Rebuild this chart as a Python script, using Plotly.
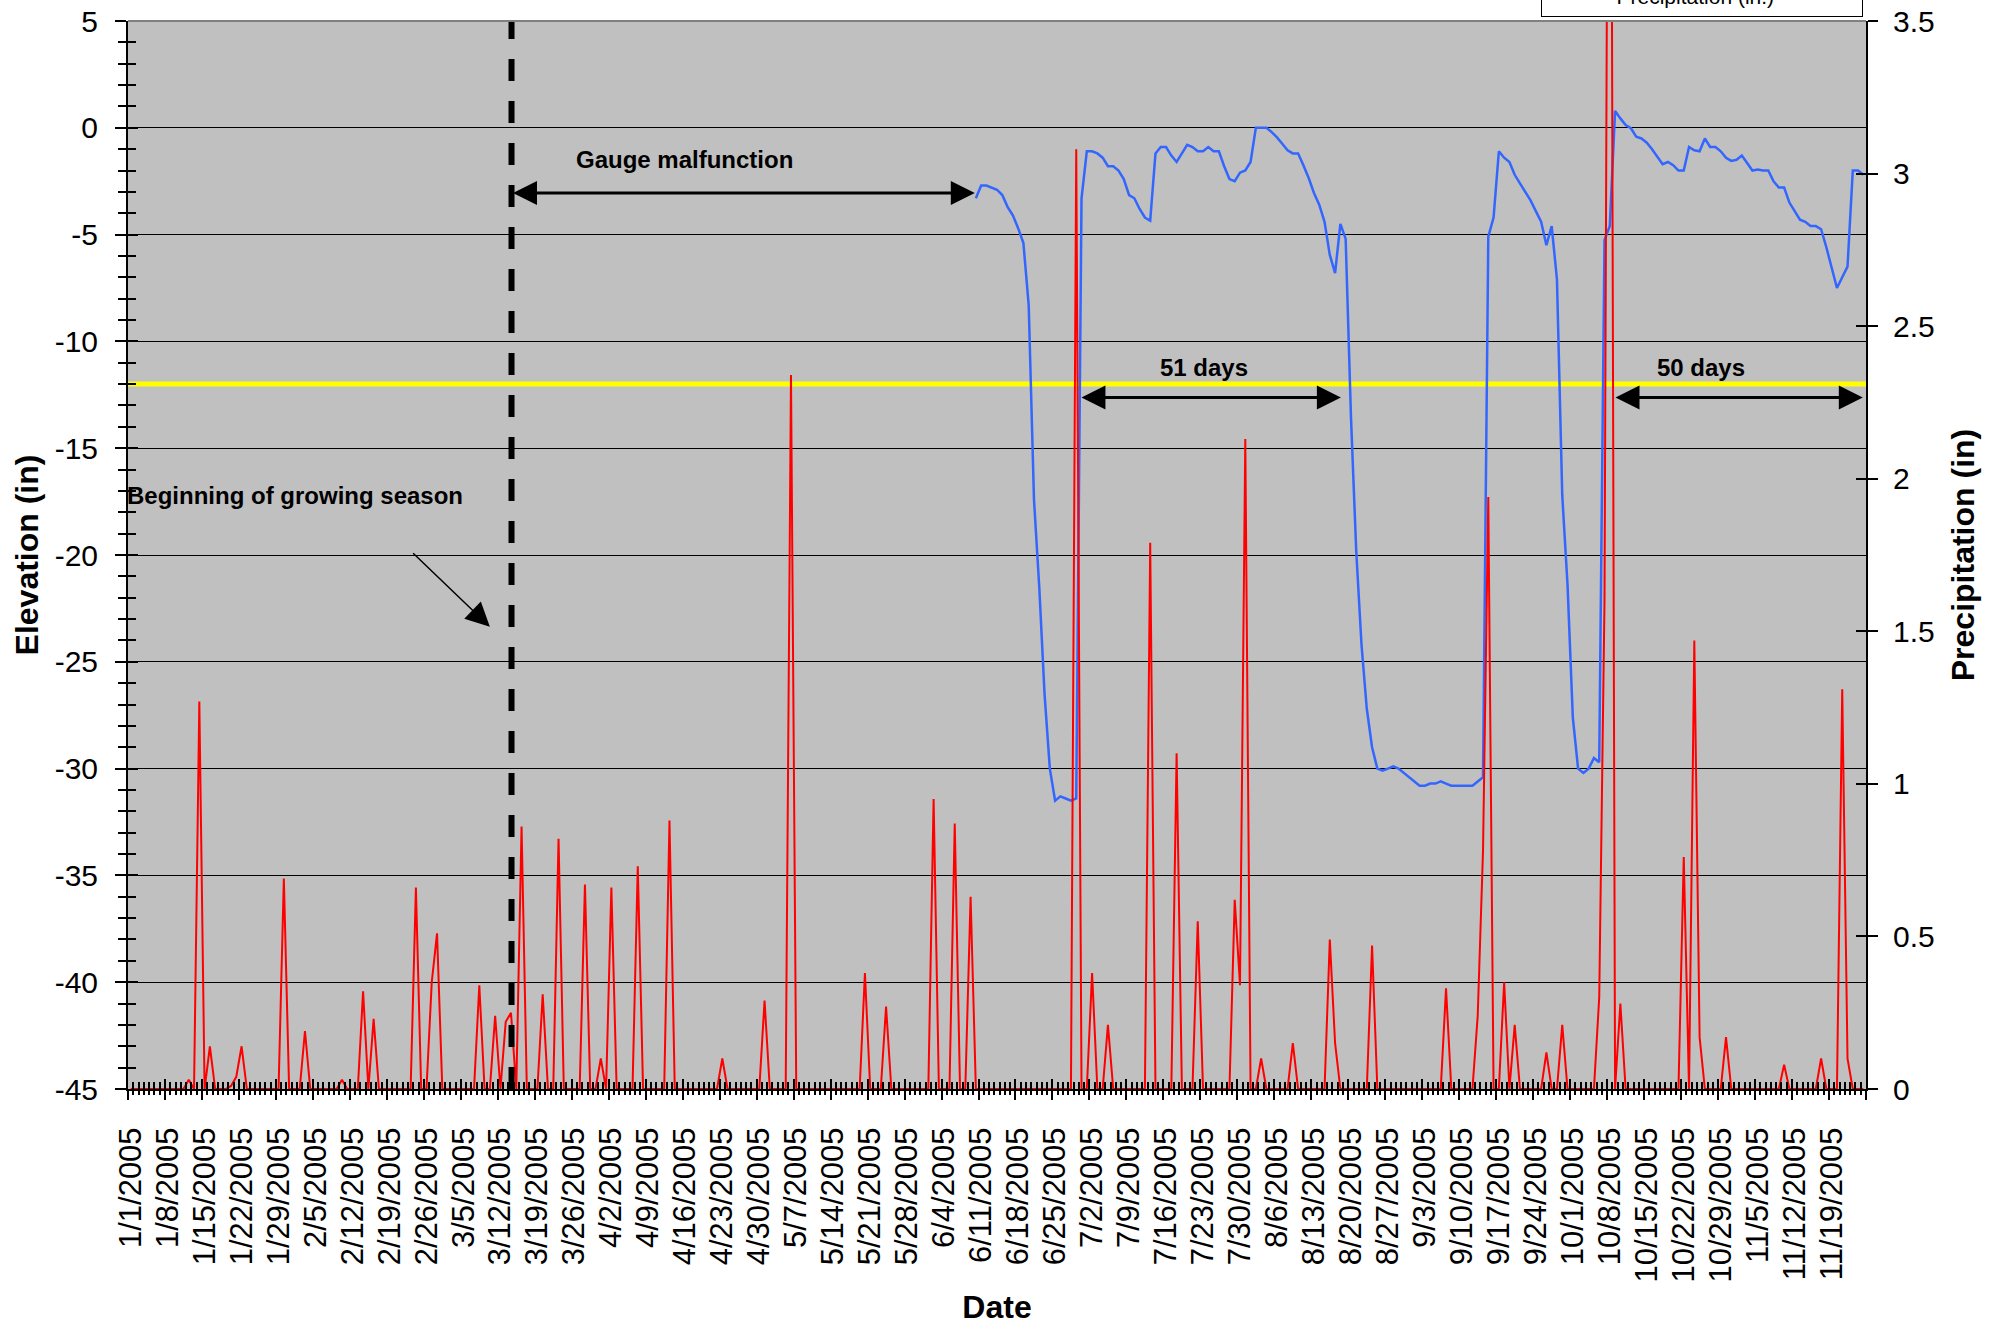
import pandas as pd
import plotly.graph_objects as go

FONT = "Liberation Sans, Arial, sans-serif"

# ---- categories (one per day, 1/1/2005 .. 11/25/2005) ----
days = pd.date_range("2005-01-01", "2005-11-25", freq="D")
tick_dates = days[::7]
tick_text = [f"{d.month}/{d.day}/{d.year}" for d in tick_dates]

# ---- precipitation (in.) : rain days and amounts; all other days are 0 ----
rain_dates = [
    "2005-01-12", "2005-01-14", "2005-01-16", "2005-01-20", "2005-01-21", "2005-01-22",
    "2005-01-30", "2005-02-03", "2005-02-10", "2005-02-14", "2005-02-16", "2005-02-24",
    "2005-02-27", "2005-02-28", "2005-03-08", "2005-03-11", "2005-03-13", "2005-03-14",
    "2005-03-16", "2005-03-20", "2005-03-23", "2005-03-28", "2005-03-31", "2005-04-02",
    "2005-04-07", "2005-04-13", "2005-04-23", "2005-05-01", "2005-05-06", "2005-05-20",
    "2005-05-24", "2005-06-02", "2005-06-06", "2005-06-09", "2005-06-29", "2005-07-02",
    "2005-07-05", "2005-07-13", "2005-07-18", "2005-07-22", "2005-07-29", "2005-07-30",
    "2005-07-31", "2005-08-03", "2005-08-09", "2005-08-16", "2005-08-17", "2005-08-24",
    "2005-09-07", "2005-09-13", "2005-09-14", "2005-09-15", "2005-09-18", "2005-09-20",
    "2005-09-26", "2005-09-29", "2005-10-06", "2005-10-07", "2005-10-08", "2005-10-10",
    "2005-10-22", "2005-10-24", "2005-10-25", "2005-10-30", "2005-11-10", "2005-11-17",
    "2005-11-21", "2005-11-22",
]
rain_inches = [
    0.03, 1.27, 0.14, 0.01, 0.04, 0.14,
    0.69, 0.19, 0.03, 0.32, 0.23, 0.66,
    0.35, 0.51, 0.34, 0.24, 0.22, 0.25,
    0.86, 0.31, 0.82, 0.67, 0.10, 0.66,
    0.73, 0.88, 0.10, 0.29, 2.34, 0.38,
    0.27, 0.95, 0.87, 0.63, 3.08, 0.38,
    0.21, 1.79, 1.10, 0.55, 0.62, 0.34,
    2.13, 0.10, 0.15, 0.49, 0.15, 0.47,
    0.33, 0.24, 0.78, 1.94, 0.35, 0.21,
    0.12, 0.21, 0.30, 1.60, 6.00, 0.28,
    0.76, 1.47, 0.17, 0.17, 0.08, 0.10,
    1.31, 0.10,
]
precip = pd.Series(0.0, index=days)
precip.loc[pd.to_datetime(rain_dates)] = rain_inches

# ---- water table elevation (in), daily from 6/10/2005 (gauge back on line) ----
elev_start = "2005-06-10"
elev_values = [
    -3.3, -2.7, -2.7, -2.8, -2.9, -3.15, -3.7, -4.1, -4.7, -5.4,
    -8.3, -17.4, -21.5, -26.5, -30.0, -31.5, -31.3, -31.4, -31.5, -31.4,
    -3.3, -1.1, -1.1, -1.2, -1.4, -1.8, -1.8, -2.0, -2.4, -3.15,
    -3.3, -3.8, -4.2, -4.35, -1.2, -0.9, -0.9, -1.3, -1.6, -1.2,
    -0.8, -0.9, -1.1, -1.1, -0.9, -1.1, -1.1, -1.8, -2.4, -2.5,
    -2.1, -2.0, -1.6, 0.0, 0.0, 0.0, -0.2, -0.45, -0.75, -1.05,
    -1.2, -1.2, -1.75, -2.35, -3.05, -3.6, -4.4, -5.95,
    -6.8, -4.5, -5.2, -13.5, -19.8, -24.2, -27.2, -29.0, -30.0, -30.1,
    -30.0, -29.9, -30.0, -30.2, -30.4, -30.6, -30.8, -30.8, -30.7, -30.7,
    -30.6, -30.7, -30.8, -30.8, -30.8, -30.8, -30.8, -30.6, -30.4,
    -5.1, -4.2, -1.1, -1.4, -1.6, -2.2, -2.6, -3.0, -3.4, -3.9,
    -4.4, -5.5, -4.6, -7.1, -17.2, -21.4, -27.6, -30.0, -30.2, -30.0,
    -29.5, -29.7,
    -5.25, -4.6, 0.79, 0.44, 0.13, -0.02, -0.42, -0.5, -0.7, -1.0,
    -1.35, -1.7, -1.6, -1.75, -2.0, -2.0, -0.9, -1.05, -1.1, -0.5,
    -0.9, -0.9, -1.1, -1.4, -1.55, -1.5, -1.3, -1.66, -2.0, -1.95,
    -2.0, -2.0, -2.5, -2.8, -2.8, -3.5, -3.9, -4.3, -4.4, -4.6,
    -4.6, -4.75, -5.6, -6.5, -7.5, -7.0, -6.5, -2.0, -2.0, -2.2,
]
elev_dates = days[days >= elev_start][: len(elev_values)]

elev_ticks = [-45, -40, -35, -30, -25, -20, -15, -10, -5, 0, 5]
elev_tick_text = [str(v) for v in elev_ticks]
growing_season_level = -12


def day_pos(d):
    """position on the daily category axis, d = days after 1/1/2005"""
    return (pd.Timestamp("2005-01-01") + pd.Timedelta(days=d)).isoformat()


fig = go.Figure()
fig.add_trace(go.Scatter(x=elev_dates, y=elev_values, mode="lines",
                         name="Water Table Elevation (in)",
                         line=dict(color="#3366FF", width=2.5)))
fig.add_trace(go.Scatter(x=days, y=precip.values, mode="lines", yaxis="y2",
                         name="Precipitation (in.)",
                         line=dict(color="#FF0000", width=2)))
# carrier traces for the tick-only overlay axes
for xa, ya in [("x2", "y"), ("x3", "y"), ("x", "y3"), ("x", "y4")]:
    fig.add_trace(go.Scatter(x=[None], y=[None], xaxis=xa, yaxis=ya,
                             showlegend=False, hoverinfo="skip"))

n_days = len(days)
xr = [day_pos(-0.5), day_pos(n_days - 0.5)]
x_tick_font = dict(family=FONT, size=31, color="black")
y_tick_font = dict(family=FONT, size=30, color="black")
title_font = dict(family=FONT, size=32, color="black", weight="bold")

x_tick_common = dict(type="date", range=xr, tickmode="linear", tick0=day_pos(-0.5),
                     dtick=7 * 86400000, showticklabels=False, showgrid=False,
                     zeroline=False, showline=False, tickcolor="black", tickwidth=2,
                     fixedrange=True)

fig.update_layout(
    width=1991, height=1325,
    margin=dict(l=128, r=125, t=21, b=236, autoexpand=False),
    paper_bgcolor="white", plot_bgcolor="#C0C0C0",
    font=dict(family=FONT, color="black"),
    xaxis=dict(type="date", range=xr, tickmode="array", tickvals=tick_dates,
               ticktext=tick_text, tickangle=-90, ticks="", showgrid=False,
               zeroline=False, showline=True, linecolor="black", linewidth=2,
               tickfont=x_tick_font, ticklabelstandoff=24, automargin=True,
               title=dict(text="Date", font=title_font, standoff=14)),
    xaxis2=dict(overlaying="x", anchor="y", side="bottom", ticks="outside", ticklen=10,
                minor=dict(ticks="outside", ticklen=5, tick0=day_pos(-0.5), dtick=86400000,
                           tickcolor="black", tickwidth=1.5),
                **x_tick_common),
    xaxis3=dict(overlaying="x", anchor="y", side="bottom", ticks="inside", ticklen=10,
                minor=dict(ticks="inside", ticklen=7, tick0=day_pos(-0.5), dtick=86400000,
                           tickcolor="black", tickwidth=1.5),
                **x_tick_common),
    yaxis=dict(range=[-45, 5], tickmode="array", tickvals=elev_ticks, ticktext=elev_tick_text,
               ticks="outside", ticklen=11, tickwidth=2, tickcolor="black",
               minor=dict(ticks="outside", ticklen=8, dtick=1, tick0=-45, tickcolor="black",
                          tickwidth=2),
               showline=True, linecolor="black", linewidth=2, showgrid=True,
               gridcolor="black", gridwidth=1, zeroline=False, tickfont=y_tick_font,
               ticklabelstandoff=11, automargin=True, fixedrange=True,
               title=dict(text="Elevation (in)", font=title_font, standoff=6)),
    yaxis3=dict(overlaying="y", anchor="x", side="left", range=[-45, 5], tickmode="linear",
                tick0=-45, dtick=5, ticks="inside", ticklen=10, tickwidth=2, tickcolor="black",
                minor=dict(ticks="inside", ticklen=8, dtick=1, tick0=-45, tickcolor="black",
                           tickwidth=2),
                showticklabels=False, showgrid=False, zeroline=False, showline=False,
                fixedrange=True),
    yaxis2=dict(overlaying="y", anchor="x", side="right", range=[0, 3.5], tickmode="linear",
                tick0=0, dtick=0.5, ticks="outside", ticklen=10, tickwidth=2,
                tickcolor="black", showline=True, linecolor="black", linewidth=2,
                showgrid=False, zeroline=False, tickfont=y_tick_font, ticklabelstandoff=9,
                automargin=True, fixedrange=True,
                title=dict(text="Precipitation (in)", font=title_font, standoff=18)),
    yaxis4=dict(overlaying="y", anchor="x", side="right", range=[0, 3.5], tickmode="linear",
                tick0=0, dtick=0.5, ticks="inside", ticklen=10, tickwidth=2,
                tickcolor="black", showticklabels=False, showgrid=False, zeroline=False,
                showline=False, fixedrange=True),
    legend=dict(x=0.998, xanchor="right", y=1 + 4 / 1068, yanchor="bottom",
                bgcolor="white", bordercolor="black", borderwidth=1,
                font=dict(family=FONT, size=21, color="black"), itemwidth=65,
                traceorder="normal"),
    showlegend=True,
)

# reference lines
fig.add_shape(type="line", xref="paper", x0=0, x1=1, yref="y",
              y0=growing_season_level, y1=growing_season_level,
              line=dict(color="#FFFF00", width=5), layer="below")
fig.add_shape(type="line", xref="x", x0=day_pos(72.1), x1=day_pos(72.1), yref="paper",
              y0=0, y1=1, line=dict(color="black", width=6, dash="22px,20px"), layer="above")
fig.add_shape(type="line", xref="paper", x0=0, x1=1, yref="paper", y0=1, y1=1,
              line=dict(color="#808080", width=2), layer="above")

ann_font = dict(family=FONT, size=24, color="black", weight="bold")
texts = [
    ("Gauge malfunction", 104.75, -1.5),
    ("51 days", 203.2, -11.2),
    ("50 days", 297.3, -11.2),
    ("Beginning of growing season", 31.1, -17.2),
]
for txt, d, yv in texts:
    fig.add_annotation(text=txt, x=day_pos(d), y=yv, xref="x", yref="y",
                       showarrow=False, font=ann_font)

double_arrows = [
    (72.1, 159.8, -3.05),
    (179.7, 229.1, -12.63),
    (280.8, 327.9, -12.63),
]
for d0, d1, yv in double_arrows:
    fig.add_annotation(text="", x=day_pos(d1), y=yv, ax=day_pos(d0), ay=yv,
                       xref="x", yref="y", axref="x", ayref="y", showarrow=True,
                       arrowside="end+start", arrowhead=2, startarrowhead=2,
                       arrowwidth=3, arrowsize=1.6, startarrowsize=1.6,
                       arrowcolor="black", standoff=0, startstandoff=0)

fig.add_annotation(text="", x=day_pos(68.0), y=-23.36, ax=day_pos(53.2), ay=-19.85,
                   xref="x", yref="y", axref="x", ayref="y", showarrow=True,
                   arrowhead=2, arrowwidth=1.5, arrowsize=3.2, arrowcolor="black",
                   standoff=0)

fig.write_html("out.html", config={"displayModeBar": False},
               post_script="document.body.style.margin='0px';")
